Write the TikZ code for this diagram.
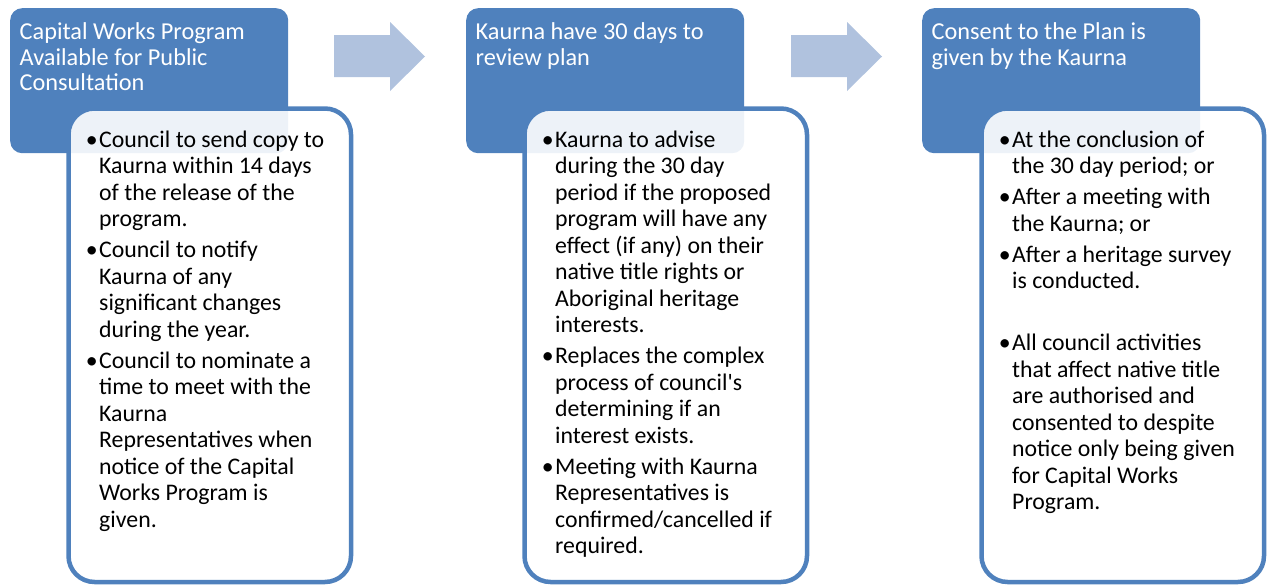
\documentclass[tikz,border=0pt]{standalone}
\usepackage{fontspec}
\setmainfont{Carlito}
\usetikzlibrary{positioning}
\definecolor{kblue}{HTML}{4F81BD}
\definecolor{karrow}{HTML}{B0C2DE}
\tikzset{
  header/.style={fill=kblue, rounded corners=12pt, minimum width=278pt, minimum height=145pt, anchor=north west, inner sep=0pt},
  body/.style={draw=kblue, line width=4.5pt, fill=white, fill opacity=0.9, rounded corners=26pt, minimum width=282.5pt, minimum height=473.5pt, anchor=north west, inner sep=0pt},
  headtext/.style={text=white, align=left, inner sep=0pt, font=\fontsize{24.3}{25.7}\selectfont},
  bodytext/.style={text=black, align=left, inner sep=0pt, font=\fontsize{23.8}{26.5}\selectfont},
  flowarrow/.style={fill=karrow}
}
\newcommand{\bpt}{\strut\llap{\textbullet\hspace{1.5pt}}}
\begin{document}
\begin{tikzpicture}[x=1pt, y=-1pt]
  \useasboundingbox (0,0) rectangle (1267,584);

  % Flechas entre columnas
  \foreach \dx in {0,457}
    \fill[flowarrow, xshift=\dx pt] (334,35) -- (390,35) -- (390,22) -- (425,56.5)
      -- (390,91) -- (390,77) -- (334,77) -- cycle;

  % Cabeceras
  \node[header] (hdrA) at (10,8) {};
  \node[header] (hdrB) at (466,8) {};
  \node[header] (hdrC) at (922,8) {};

  \node[headtext, below right=13.3pt and 9.5pt of hdrA.north west] (titA)
    {\strut Capital Works Program\\Available for Public\\Consultation};
  \node[headtext, below right=13.3pt and 9.5pt of hdrB.north west] (titB)
    {\strut Kaurna have 30 days to\\review plan};
  \node[headtext, below right=13.3pt and 9.5pt of hdrC.north west] (titC)
    {\strut Consent to the Plan is\\given by the Kaurna};

  % Cuerpos
  \node[body] (bodyA) at (66.25,106.25) {};
  \node[body] (bodyB) at (522.25,106.25) {};
  \node[body] (bodyC) at (979.25,106.25) {};

  \node[bodytext, below right=22.2pt and 32.75pt of bodyA.north west] (txtA)
    {\bpt Council to send copy to\\Kaurna within 14 days\\of the release of the\\program.\\[4.5pt]
     \bpt Council to notify\\Kaurna of any\\significant changes\\during the year.\\[4.5pt]
     \bpt Council to nominate a\\time to meet with the\\Kaurna\\Representatives when\\notice of the Capital\\Works Program is\\given.};
  \node[bodytext, below right=22.2pt and 32.75pt of bodyB.north west] (txtB)
    {\bpt Kaurna to advise\\during the 30 day\\period if the proposed\\program will have any\\effect (if any) on their\\native title rights or\\Aboriginal heritage\\interests.\\[4.5pt]
     \bpt Replaces the complex\\process of council\textquotesingle s\\determining if an\\interest exists.\\[4.5pt]
     \bpt Meeting with Kaurna\\Representatives is\\confirmed/cancelled if\\required.};
  \node[bodytext, below right=22.2pt and 32.75pt of bodyC.north west] (txtC)
    {\bpt At the conclusion of\\the 30 day period; or\\[4.5pt]
     \bpt After a meeting with\\the Kaurna; or\\[4.5pt]
     \bpt After a heritage survey\\is conducted.\\[35.5pt]
     \bpt All council activities\\that affect native title\\are authorised and\\consented to despite\\notice only being given\\for Capital Works\\Program.};
\end{tikzpicture}
\end{document}
